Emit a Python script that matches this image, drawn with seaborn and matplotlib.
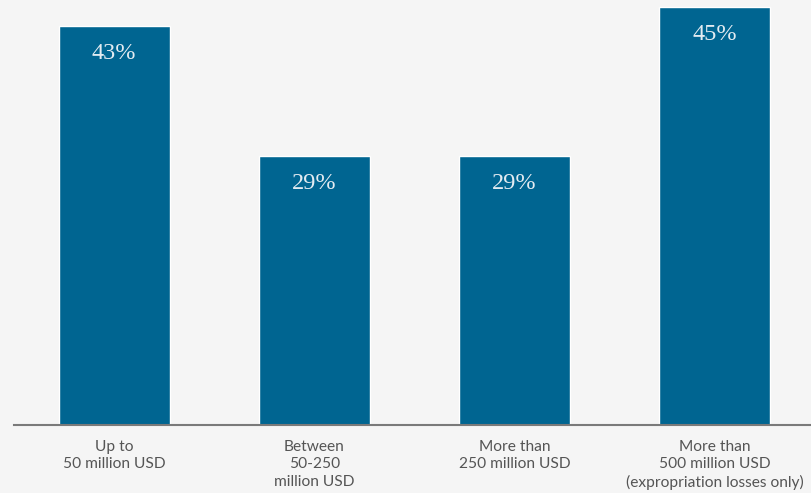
import matplotlib
matplotlib.use("Agg")
import matplotlib.pyplot as plt
import seaborn as sns
import pandas as pd

categories = [
    "Up to\n50 million USD",
    "Between\n50-250\nmillion USD",
    "More than\n250 million USD",
    "More than\n500 million USD\n(expropriation losses only)",
]
shares = [43, 29, 29, 45]
value_labels = ["43%", "29%", "29%", "45%"]

bar_color = "#006591"
bg_color = "#f5f5f5"

sns.set_theme(style="white")
plt.rcParams["font.family"] = ["Lato", "DejaVu Sans"]

df = pd.DataFrame({"category": categories, "share": shares})

fig = plt.figure(figsize=(8.11, 4.93), dpi=100, facecolor=bg_color)
ax = fig.add_axes([14 / 811, 68 / 493, 797 / 811, 425 / 493])
ax.set_facecolor(bg_color)

sns.barplot(data=df, x="category", y="share", color=bar_color,
            width=0.555, saturation=1, ax=ax)

ax.set_xlim(-0.5, 3.48)
ax.set_ylim(0, 45.8)

for i, (v, lab) in enumerate(zip(shares, value_labels)):
    ax.text(i, v - 2.95, lab, ha="center", va="center",
            color="#e3ebf1", fontsize=17.5, family=["Liberation Serif"])

for s in ["top", "right", "left"]:
    ax.spines[s].set_visible(False)
ax.spines["bottom"].set_color("#7a7a7a")
ax.spines["bottom"].set_linewidth(1.5)

ax.set_yticks([])
ax.set_xlabel("")
ax.set_ylabel("")
ax.tick_params(axis="x", length=0, pad=10.5, labelsize=11.2, labelcolor="#555555")
for t in ax.get_xticklabels():
    t.set_linespacing(1.33)

fig.savefig("out.png", dpi=100, facecolor=bg_color)
